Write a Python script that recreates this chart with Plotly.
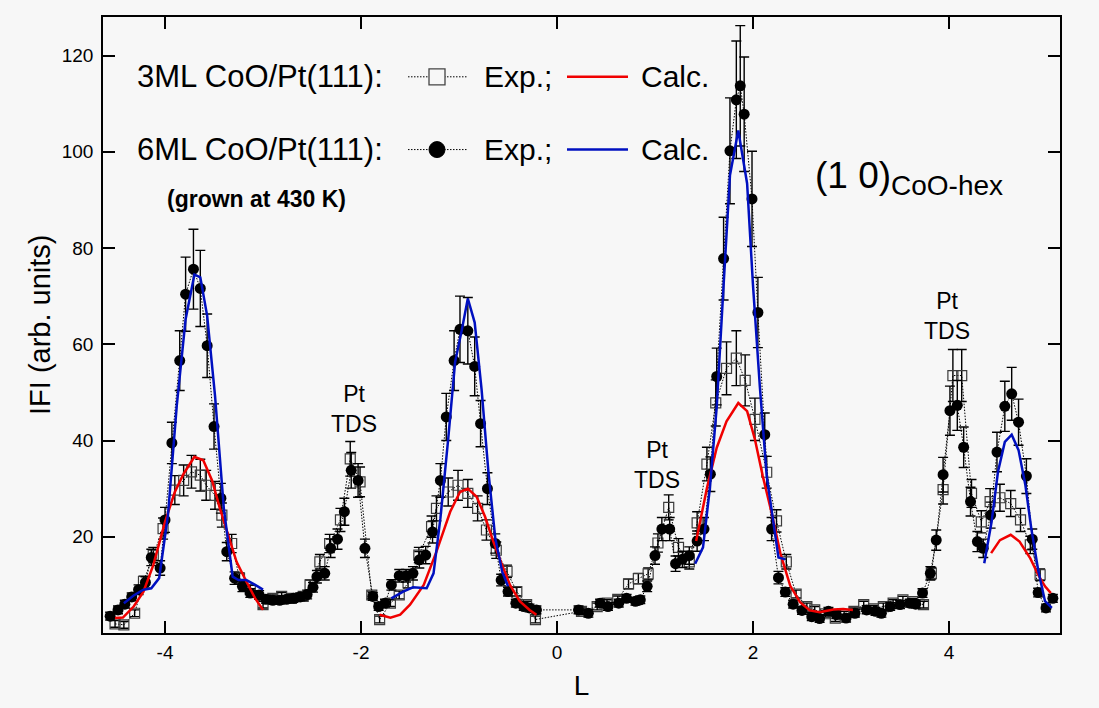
import plotly.graph_objects as go

# ---------------- data ----------------
# 6ML CoO/Pt(111) experimental (filled circles)
L_6ml = [-4.56, -4.48, -4.41, -4.34, -4.27, -4.20, -4.14, -4.05, -4.00, -3.93,
         -3.85, -3.79, -3.71, -3.64, -3.57, -3.50, -3.43, -3.37, -3.29, -3.21,
         -3.13, -3.04, -2.97, -2.90, -2.83, -2.76, -2.69, -2.62, -2.55, -2.49,
         -2.45, -2.37, -2.31, -2.24, -2.17, -2.10, -2.03, -1.96, -1.88, -1.82,
         -1.755, -1.69, -1.61, -1.54, -1.47, -1.405, -1.34, -1.27, -1.19, -1.13,
         -1.05, -0.99, -0.91, -0.84, -0.78, -0.71, -0.63, -0.57, -0.50, -0.42,
         -0.34, -0.28, -0.21, 0.22, 0.32, 0.44, 0.52, 0.63, 0.71, 0.80,
         0.85, 0.92, 1.00, 1.07, 1.15, 1.21, 1.28, 1.35, 1.43, 1.50,
         1.565, 1.63, 1.70, 1.765, 1.83, 1.87, 1.91, 1.99, 2.05, 2.12,
         2.19, 2.26, 2.33, 2.41, 2.50, 2.60, 2.68, 2.77, 2.85, 2.95,
         3.04, 3.16, 3.25, 3.31, 3.40, 3.50, 3.60, 3.66, 3.73, 3.81,
         3.87, 3.94, 4.01, 4.085, 4.15, 4.22, 4.29, 4.35, 4.425, 4.49,
         4.57, 4.64, 4.71, 4.79, 4.85, 4.91, 4.99, 5.06]
I_6ml = [3.5, 4.8, 6.0, 7.5, 9.0, 10.5, 15.7, 13.5, 23.5, 39.5,
         56.6, 70.4, 75.6, 71.6, 59.7, 42.9, 28.0, 16.9, 11.4, 9.7,
         8.3, 7.9, 7.0, 6.8, 6.8, 7.0, 7.2, 7.5, 8.0, 9.5,
         11.7, 12.4, 17.6, 19.5, 25.2, 33.8, 31.7, 17.6, 7.6, 5.5,
         6.2, 10.0, 11.9, 11.9, 12.4, 15.2, 16.2, 21.0, 31.7, 44.9,
         56.6, 63.1, 62.8, 55.4, 43.5, 30.0, 18.6, 11.0, 8.6, 6.2,
         5.5, 5.2, 4.8, 4.8, 4.1, 6.2, 5.5, 6.2, 7.2, 6.6,
         6.9, 9.7, 16.1, 21.6, 21.6, 14.4, 15.3, 16.1, 19.1, 21.6,
         33.0, 53.3, 77.8, 100.2, 110.8, 113.7, 107.8, 90.2, 66.6, 41.2,
         21.6, 11.5, 8.5, 6.0, 4.7, 3.4, 3.0, 4.5, 3.8, 3.1,
         4.1, 4.8, 4.5, 4.1, 5.5, 5.9, 6.2, 6.0, 8.3, 12.4,
         19.3, 32.9, 46.2, 47.3, 38.6, 27.3, 19.0, 17.6, 24.5, 37.6,
         47.1, 49.7, 43.8, 32.6, 19.5, 8.4, 5.2, 7.2]
E_6ml = [0.8, 0.8, 0.8, 0.8, 1.0, 1.2, 1.7, 1.5, 2.6, 4.3,
         6.2, 7.7, 8.3, 7.9, 6.6, 4.7, 3.1, 1.9, 1.3, 1.1,
         0.9, 0.9, 0.8, 0.8, 0.8, 0.8, 0.8, 0.8, 0.9, 1.0,
         1.3, 1.4, 1.9, 2.1, 2.8, 3.7, 3.5, 1.9, 0.8, 0.8,
         0.8, 1.1, 1.3, 1.3, 1.4, 1.7, 1.8, 2.3, 3.5, 4.9,
         6.2, 6.9, 6.9, 6.1, 4.8, 3.3, 2.0, 1.2, 0.9, 0.8,
         0.8, 0.8, 0.8, 0.8, 0.8, 0.8, 0.8, 0.8, 0.8, 0.8,
         0.8, 1.1, 1.8, 2.4, 2.4, 1.6, 1.7, 1.8, 2.1, 2.4,
         3.6, 5.9, 8.6, 11.0, 12.2, 12.5, 11.9, 9.9, 7.3, 4.5,
         2.4, 1.3, 0.9, 0.8, 0.8, 0.8, 0.8, 0.8, 0.8, 0.8,
         0.8, 0.8, 0.8, 0.8, 0.8, 0.8, 0.8, 0.8, 0.9, 1.4,
         2.1, 3.6, 5.1, 5.2, 4.2, 3.0, 2.1, 1.9, 2.7, 4.1,
         5.2, 5.5, 4.8, 3.6, 2.1, 0.9, 0.8, 0.8]

# 3ML CoO/Pt(111) experimental (open squares)
L_3ml = [-4.51, -4.42, -4.31, -4.22, -4.12, -4.02, -3.90, -3.81, -3.73, -3.64,
         -3.58, -3.49, -3.42, -3.32, -3.24, -3.13, -3.00, -2.90, -2.81, -2.71,
         -2.59, -2.52, -2.42, -2.32, -2.21, -2.11, -2.01, -1.89, -1.81, -1.70,
         -1.61, -1.52, -1.41, -1.28, -1.23, -1.11, -1.01, -0.91, -0.81, -0.72,
         -0.62, -0.51, -0.41, -0.31, -0.22, 0.25, 0.41, 0.51, 0.62, 0.73,
         0.83, 0.93, 1.03, 1.14, 1.24, 1.35, 1.43, 1.53, 1.62, 1.73,
         1.83, 1.92, 2.02, 2.14, 2.24, 2.34, 2.44, 2.55, 2.63, 2.74,
         2.84, 2.93, 3.03, 3.13, 3.23, 3.33, 3.43, 3.53, 3.63, 3.74,
         3.82, 3.94, 4.04, 4.13, 4.23, 4.33, 4.42, 4.52, 4.63, 4.73,
         4.83, 4.93]
I_3ml = [1.9, 1.7, 4.1, 10.7, 16.2, 21.7, 29.7, 31.7, 33.5, 32.8,
         30.7, 28.6, 24.5, 18.6, 11.4, 9.0, 5.9, 7.2, 7.6, 7.2,
         7.6, 10.0, 14.8, 18.6, 23.5, 36.2, 31.4, 7.9, 2.8, 6.2,
         7.9, 10.4, 16.2, 22.1, 25.9, 29.3, 30.7, 29.0, 25.9, 21.4,
         17.2, 12.8, 8.6, 5.9, 2.8, 4.5, 5.5, 6.2, 7.0, 10.2,
         11.3, 12.3, 18.7, 26.1, 17.8, 14.8, 22.9, 35.1, 47.8, 55.0,
         57.1, 52.5, 44.4, 33.4, 23.3, 14.8, 8.1, 5.5, 4.8, 4.0,
         3.1, 3.8, 4.5, 5.9, 5.0, 5.5, 6.2, 6.9, 6.5, 5.9,
         12.4, 29.8, 53.5, 53.5, 29.0, 23.1, 27.3, 28.1, 26.9, 23.5,
         18.3, 12.1]
E_3ml = [0.7, 0.7, 0.7, 1.1, 1.6, 2.2, 3.0, 3.2, 3.4, 3.3,
         3.1, 2.9, 2.5, 1.9, 1.1, 0.9, 0.7, 0.7, 0.8, 0.7,
         0.8, 1.0, 1.5, 1.9, 2.4, 3.6, 3.1, 0.8, 0.7, 0.7,
         0.8, 1.0, 1.6, 2.2, 2.6, 2.9, 3.1, 2.9, 2.6, 2.1,
         1.7, 1.3, 0.9, 0.7, 0.7, 0.7, 0.7, 0.7, 0.7, 1.0,
         1.1, 1.2, 1.9, 2.6, 1.8, 1.5, 2.3, 3.5, 4.8, 5.5,
         5.7, 5.3, 4.4, 3.3, 2.3, 1.5, 0.8, 0.7, 0.7, 0.7,
         0.7, 0.7, 0.7, 0.7, 0.7, 0.7, 0.7, 0.7, 0.7, 0.7,
         1.2, 3.0, 5.4, 5.4, 2.9, 2.3, 2.7, 2.8, 2.7, 2.4,
         1.8, 1.2]

# Calculated curves (segments)
calc3_L = [
    [-4.51, -4.43, -4.32, -4.22, -4.12, -4.00, -3.90, -3.81, -3.70, -3.61, -3.52, -3.44, -3.35, -3.27, -3.17, -3.08, -3.00],
    [-1.81, -1.70, -1.60, -1.50, -1.36, -1.23, -1.09, -0.99, -0.91, -0.82, -0.735, -0.65, -0.56, -0.48, -0.38, -0.28, -0.21],
    [1.42, 1.53, 1.63, 1.73, 1.85, 1.94, 2.02, 2.10, 2.19, 2.28, 2.38, 2.48, 2.58, 2.68, 2.82, 2.92, 3.02],
    [4.43, 4.52, 4.63, 4.72, 4.83, 4.91, 4.98, 5.04],
]
calc3_I = [
    [3.1, 3.2, 5.5, 8.6, 14.1, 23.1, 29.3, 33.1, 36.6, 35.9, 31.7, 25.9, 20.0, 14.8, 10.7, 7.2, 4.8],
    [3.8, 3.2, 3.8, 5.9, 10.0, 16.9, 25.2, 29.3, 30.0, 28.3, 24.2, 19.0, 14.1, 10.0, 6.6, 4.8, 3.8],
    [19.1, 30.1, 38.5, 44.0, 47.8, 46.1, 40.2, 32.6, 25.0, 16.5, 9.8, 6.4, 4.7, 4.3, 4.9, 5.0, 4.8],
    [16.6, 19.3, 20.4, 19.0, 15.5, 12.1, 9.7, 8.3],
]
calc6_L = [
    [-4.42, -4.32, -4.22, -4.14, -4.06, -3.97, -3.88, -3.79, -3.70, -3.64, -3.57, -3.49, -3.40, -3.31, -3.25, -3.17, -3.08, -3.00],
    [-1.69, -1.57, -1.47, -1.33, -1.26, -1.19, -1.11, -1.04, -0.97, -0.91, -0.84, -0.77, -0.70, -0.63, -0.56, -0.50],
    [1.41, 1.49, 1.56, 1.63, 1.70, 1.765, 1.85, 1.94, 2.00, 2.07, 2.14, 2.21, 2.26, 2.33],
    [4.36, 4.435, 4.50, 4.57, 4.64, 4.71, 4.78, 4.84, 4.91, 4.98, 5.05],
]
calc6_I = [
    [6.2, 7.8, 9.0, 9.3, 11.4, 24.5, 47.3, 65.2, 74.5, 73.9, 65.9, 49.3, 25.9, 11.7, 11.0, 11.0, 10.0, 9.0],
    [7.2, 8.6, 9.5, 9.3, 12.4, 23.8, 40.4, 56.3, 63.1, 69.5, 64.5, 50.7, 33.5, 19.7, 12.8, 9.7],
    [14.4, 17.8, 30.1, 47.0, 72.3, 95.1, 104.4, 93.4, 72.3, 51.2, 32.6, 23.3, 15.7, 15.3],
    [14.5, 23.1, 33.5, 39.7, 41.2, 38.0, 30.7, 21.7, 13.1, 6.6, 5.2],
]

x_ticks = [-4, -2, 0, 2, 4]
x_ticktext = ["-4", "-2", "0", "2", "4"]
y_ticks = [20, 40, 60, 80, 100, 120]

# ---------------- helpers ----------------
def join(segs):
    out = []
    for i, s in enumerate(segs):
        if i:
            out.append(None)
        out.extend(s)
    return out

W, H = 1099, 708
ML, MR, MT, MB = 103, 39, 17, 73
PW, PH = W - ML - MR, H - MT - MB

def xp(px):
    return (px - ML) / PW

def yp(py):
    return (H - MB - py) / PH

FONT = "Liberation Sans, Arial, Helvetica, sans-serif"
BG = "#f7f7f7"
RED = "#f00000"
BLUE = "#0010c0"

fig = go.Figure()

fig.add_trace(go.Scatter(
    x=L_3ml, y=I_3ml, mode="lines+markers",
    line=dict(color="black", width=1, dash="1.5px,1.5px"),
    marker=dict(symbol="square-open", size=10, color="#3c3c3c", line=dict(width=1.2)),
    error_y=dict(type="data", array=E_3ml, color="black", thickness=1.4, width=5),
    showlegend=False))

fig.add_trace(go.Scatter(
    x=L_6ml, y=I_6ml, mode="lines+markers",
    line=dict(color="black", width=1, dash="1.5px,1.5px"),
    marker=dict(symbol="circle", size=11, color="black"),
    error_y=dict(type="data", array=E_6ml, color="black", thickness=1.4, width=5),
    showlegend=False))

fig.add_trace(go.Scatter(
    x=join(calc3_L), y=join(calc3_I), mode="lines",
    line=dict(color=RED, width=2.5), connectgaps=False, showlegend=False))
fig.add_trace(go.Scatter(
    x=join(calc6_L), y=join(calc6_I), mode="lines",
    line=dict(color=BLUE, width=2.5), connectgaps=False, showlegend=False))

# ---------------- legend (custom) ----------------
shapes = []
annots = []
rows = [(77, "3ML CoO/Pt(111):", "sq", RED), (150, "6ML CoO/Pt(111):", "ci", BLUE)]
for py, label, sym, col in rows:
    annots.append(dict(xref="paper", yref="paper", x=xp(135), y=yp(py), xanchor="left", yanchor="middle",
                       text=label, showarrow=False, font=dict(family=FONT, size=31, color="black")))
    shapes.append(dict(type="line", xref="paper", yref="paper", x0=xp(408), x1=xp(467), y0=yp(py), y1=yp(py),
                       line=dict(color="black", width=1, dash="1.5px,1.5px")))
    if sym == "sq":
        shapes.append(dict(type="rect", xref="paper", yref="paper", x0=xp(429), x1=xp(445),
                           y0=yp(py + 8), y1=yp(py - 8), fillcolor=BG, line=dict(color="#444444", width=1.3)))
    else:
        shapes.append(dict(type="circle", xref="paper", yref="paper", x0=xp(429), x1=xp(445),
                           y0=yp(py + 8), y1=yp(py - 8), fillcolor="black", line=dict(color="black", width=1)))
    annots.append(dict(xref="paper", yref="paper", x=xp(482), y=yp(py), xanchor="left", yanchor="middle",
                       text="Exp.;", showarrow=False, font=dict(family=FONT, size=30, color="black")))
    shapes.append(dict(type="line", xref="paper", yref="paper", x0=xp(567), x1=xp(628), y0=yp(py), y1=yp(py),
                       line=dict(color=col, width=2.5)))
    annots.append(dict(xref="paper", yref="paper", x=xp(639), y=yp(py), xanchor="left", yanchor="middle",
                       text="Calc.", showarrow=False, font=dict(family=FONT, size=30, color="black")))

annots.append(dict(xref="paper", yref="paper", x=xp(256), y=yp(200), xanchor="center", yanchor="middle",
                   text="<b>(grown at 430 K)</b>", showarrow=False,
                   font=dict(family=FONT, size=23, color="black")))
annots.append(dict(xref="paper", yref="paper", x=xp(813), y=yp(176), xanchor="left", yanchor="middle",
                   text="(1 0)", showarrow=False, font=dict(family=FONT, size=37, color="black")))
annots.append(dict(xref="paper", yref="paper", x=xp(889), y=yp(186), xanchor="left", yanchor="middle",
                   text="CoO-hex", showarrow=False, font=dict(family=FONT, size=28, color="black")))

# Pt TDS labels (data coordinates)
tds_L = [-2.07, 1.02, 3.98]
tds_I = [46.6, 35.0, 65.8]
for lx, ly in zip(tds_L, tds_I):
    annots.append(dict(xref="x", yref="y", x=lx, y=ly, xanchor="center", yanchor="middle",
                       text="Pt<br>TDS", showarrow=False, font=dict(family=FONT, size=23, color="black")))

# y axis title
annots.append(dict(xref="paper", yref="paper", x=xp(40), y=yp(326), xanchor="center", yanchor="middle",
                   text="IFI (arb. units)", textangle=-90, showarrow=False,
                   font=dict(family=FONT, size=29, color="black")))

axis_common = dict(showline=True, linecolor="black", linewidth=1.5, mirror="ticks",
                   ticks="inside", ticklen=12, tickwidth=1.5, tickcolor="black",
                   showgrid=False, zeroline=False,
                   tickfont=dict(family=FONT, size=19, color="black"))

fig.update_layout(
    width=W, height=H,
    margin=dict(l=ML, r=MR, t=MT, b=MB),
    paper_bgcolor=BG, plot_bgcolor=BG,
    showlegend=False,
    shapes=shapes, annotations=annots,
    xaxis=dict(range=[-4.633, 5.133], tickvals=x_ticks, ticktext=x_ticktext,
               title=dict(text="L", font=dict(family=FONT, size=28, color="black"), standoff=14),
               ticklabelstandoff=1, **axis_common),
    yaxis=dict(range=[0, 128], tickvals=y_ticks, ticklabelstandoff=4, **axis_common),
)

fig.write_html(
    "out.html",
    config={"displayModeBar": False},
    post_script="document.body.style.margin='0';document.body.style.background='%s';"
                "document.documentElement.style.overflow='hidden';" % BG,
)
